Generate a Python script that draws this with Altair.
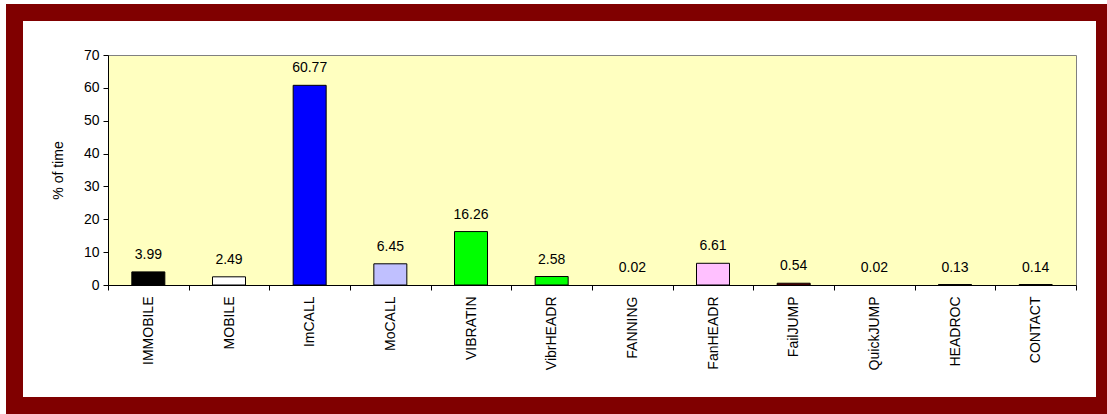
import altair as alt
import pandas as pd

categories = ["IMMOBILE", "MOBILE", "ImCALL", "MoCALL", "VIBRATIN", "VibrHEADR",
              "FANNING", "FanHEADR", "FailJUMP", "QuickJUMP", "HEADROC", "CONTACT"]
values = [3.99, 2.49, 60.77, 6.45, 16.26, 2.58, 0.02, 6.61, 0.54, 0.02, 0.13, 0.14]
colors = ["#000000", "#FFFFFF", "#0000FF", "#C0C0FF", "#00FF00", "#00FF00",
          "#FFFF00", "#FFC0FF", "#800000", "#00FFFF", "#000000", "#000000"]
y_ticks = [0, 10, 20, 30, 40, 50, 60, 70]

FONT = "Liberation Sans"
FS = 14
W, H = 968, 230
OX, OY = 108, 55
PAD = {"left": OX, "top": OY, "right": 1107 - OX - W, "bottom": 414 - OY - H}

df = pd.DataFrame({"cat": categories, "pct": values})
one = pd.DataFrame({"a": [0]})

xenc = alt.X("cat:N", sort=categories, title=None,
             scale=alt.Scale(paddingInner=0, paddingOuter=0),
             axis=alt.Axis(labelAngle=-90, labelAlign="right", labelBaseline="middle",
                           tickBand="extent", tickSize=5, labelPadding=6,
                           labelFontSize=FS, labelFont=FONT, labelColor="black",
                           domainColor="black", tickColor="black"))
yenc = alt.Y("pct:Q", title="% of time",
             scale=alt.Scale(domain=[0, 70], nice=False),
             axis=alt.Axis(values=y_ticks, tickSize=5, labelPadding=4, grid=False,
                           labelFontSize=FS, labelFont=FONT, labelColor="black",
                           titleFontSize=FS, titleFont=FONT, titleFontWeight="normal",
                           titleColor="black", titlePadding=18,
                           domainColor="black", tickColor="black"))

bars = alt.Chart(df).mark_bar(size=33, strokeWidth=1).encode(
    x=xenc, y=yenc,
    color=alt.Color("cat:N", scale=alt.Scale(domain=categories, range=colors), legend=None),
    stroke=alt.condition("datum.pct < 0.05", alt.value("transparent"), alt.value("black")))

labels = alt.Chart(df).mark_text(dy=-13, baseline="alphabetic", align="center",
                                 font=FONT, fontSize=FS, color="black").encode(
    x=xenc, y=yenc,
    text=alt.Text("pct:Q", format=".2f"))


def frame_side(x0, x1, y0, y1):
    return alt.Chart(one).mark_rect(fill="#800000").encode(
        x=alt.value(x0 - OX), x2=alt.value(x1 - OX),
        y=alt.value(y0 - OY), y2=alt.value(y1 - OY))


frame = [
    frame_side(6, 1107, 4, 21),
    frame_side(6, 1107, 397, 414),
    frame_side(6, 23, 4, 414),
    frame_side(1096, 1107, 4, 414),
]

chart = alt.layer(bars, labels, *frame).properties(
    width=W, height=H, padding=PAD, background="white",
    autosize=alt.AutoSizeParams(type="none")
).configure_view(stroke="#808080", fill="#FFFFC0")

chart.save("out.html", embed_options={"renderer": "svg", "actions": False})
